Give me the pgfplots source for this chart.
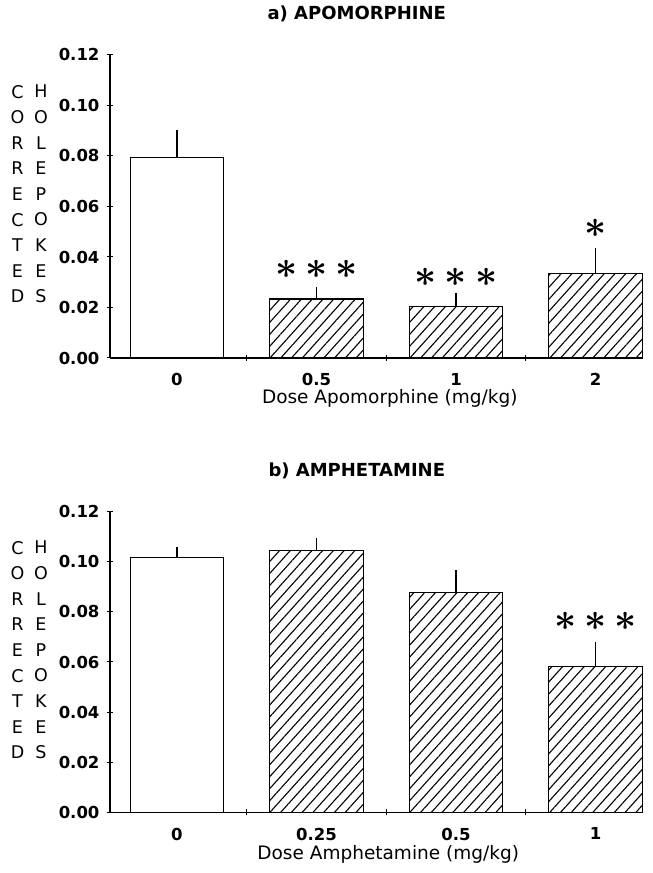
\documentclass[border=0pt]{standalone}
\usepackage{fontspec}
\setmainfont{DejaVu Sans}
\usepackage{graphicx}
\usepackage{pgfplots}
\pgfplotsset{compat=1.18}
\usetikzlibrary{patterns.meta}
\newcommand{\bigast}{\scalebox{1.55}{\fontsize{24.88}{24.88}\selectfont\boldmath$\ast$}}
\newcommand{\onestar}{\bigast}
\newcommand{\threestars}{\bigast\hspace{8pt}\bigast\hspace{8pt}\bigast}
\pgfplotsset{
  panel/.style={
    scale only axis, width=533pt,
    xmin=-0.48, xmax=3.34, ymin=0, ymax=0.12,
    axis lines*=left,
    axis line style={line width=1.2pt,-},
    ybar, bar width=0.67, bar shift=0pt,
    xtick={0.5,1.5,2.5}, xticklabels={},
    extra x ticks={0,1,2,3},
    extra x tick style={major tick length=0pt, xticklabel style={yshift=-12pt}},
    ytick={0,0.02,0.04,0.06,0.08,0.1,0.12},
    tick align=center, major tick length=6pt,
    tick style={line width=1pt, black},
    /pgf/number format/assume math mode=true,
    yticklabel style={/pgf/number format/fixed, /pgf/number format/fixed zerofill, /pgf/number format/precision=2, xshift=-4pt},
    ticklabel style={font=\fontsize{16.5}{16.5}\selectfont\bfseries},
    title style={font=\fontsize{18}{18}\selectfont\bfseries, at={(axis description cs:0.463,1.115)}, anchor=center},
    xlabel style={font=\fontsize{18.5}{18.5}\selectfont, anchor=center},
    clip=false,
  },
  white bar/.style={fill=white, draw=black, line width=1.2pt,
    error bars/.cd, y dir=plus, y explicit, error mark=none,
    error bar style={line width=1.2pt}},
  hatch bar/.style={draw=black, line width=1.2pt,
    pattern={Lines[angle=48,distance=8pt,line width=1.1pt]},
    error bars/.cd, y dir=plus, y explicit, error mark=none,
    error bar style={line width=1.2pt}},
}
\begin{document}
\begin{tikzpicture}
\useasboundingbox (0,0) rectangle (653pt,873pt);
% ---------- a) Apomorphine ----------
\begin{axis}[panel, at={(110pt,515pt)}, anchor=south west, height=303pt,
  title={a) APOMORPHINE},
  extra x tick labels={0,0.5,1,2},
  xlabel={Dose Apomorphine (mg/kg)},
  xlabel style={at={(axis description cs:0.525,-0.132)}},
]
\addplot[white bar] coordinates {(0,0.0793) +- (0,0.0110)};
\addplot[hatch bar] coordinates {(1,0.0234) +- (0,0.0048) (2,0.0203) +- (0,0.0053) (3,0.0335) +- (0,0.0102)};
\node at (axis cs:1,0.0349) {\threestars};
\node at (axis cs:2,0.0318) {\threestars};
\node at (axis cs:3,0.0515) {\onestar};
\node[font=\fontsize{17.5}{25.6}\selectfont, align=center] at (axis description cs:-0.1735,0.541) {C\\O\\R\\R\\E\\C\\T\\E\\D};
\node[font=\fontsize{17.5}{25.6}\selectfont, align=center] at (axis description cs:-0.1295,0.541) {H\\O\\L\\E\\P\\O\\K\\E\\S};
\end{axis}
% ---------- b) Amphetamine ----------
\begin{axis}[panel, at={(110pt,60.7pt)}, anchor=south west, height=300.6pt,
  title={b) AMPHETAMINE},
  extra x tick labels={0,0.25,0.5,1},
  xlabel={Dose Amphetamine (mg/kg)},
  xlabel style={at={(axis description cs:0.522,-0.140)}},
]
\addplot[white bar] coordinates {(0,0.1018) +- (0,0.0042)};
\addplot[hatch bar] coordinates {(1,0.1044) +- (0,0.0052) (2,0.0877) +- (0,0.0090) (3,0.0581) +- (0,0.0100)};
\node at (axis cs:3,0.0761) {\threestars};
\node[font=\fontsize{17.5}{25.6}\selectfont, align=center] at (axis description cs:-0.1735,0.540) {C\\O\\R\\R\\E\\C\\T\\E\\D};
\node[font=\fontsize{17.5}{25.6}\selectfont, align=center] at (axis description cs:-0.1295,0.540) {H\\O\\L\\E\\P\\O\\K\\E\\S};
\end{axis}
\end{tikzpicture}
\end{document}
